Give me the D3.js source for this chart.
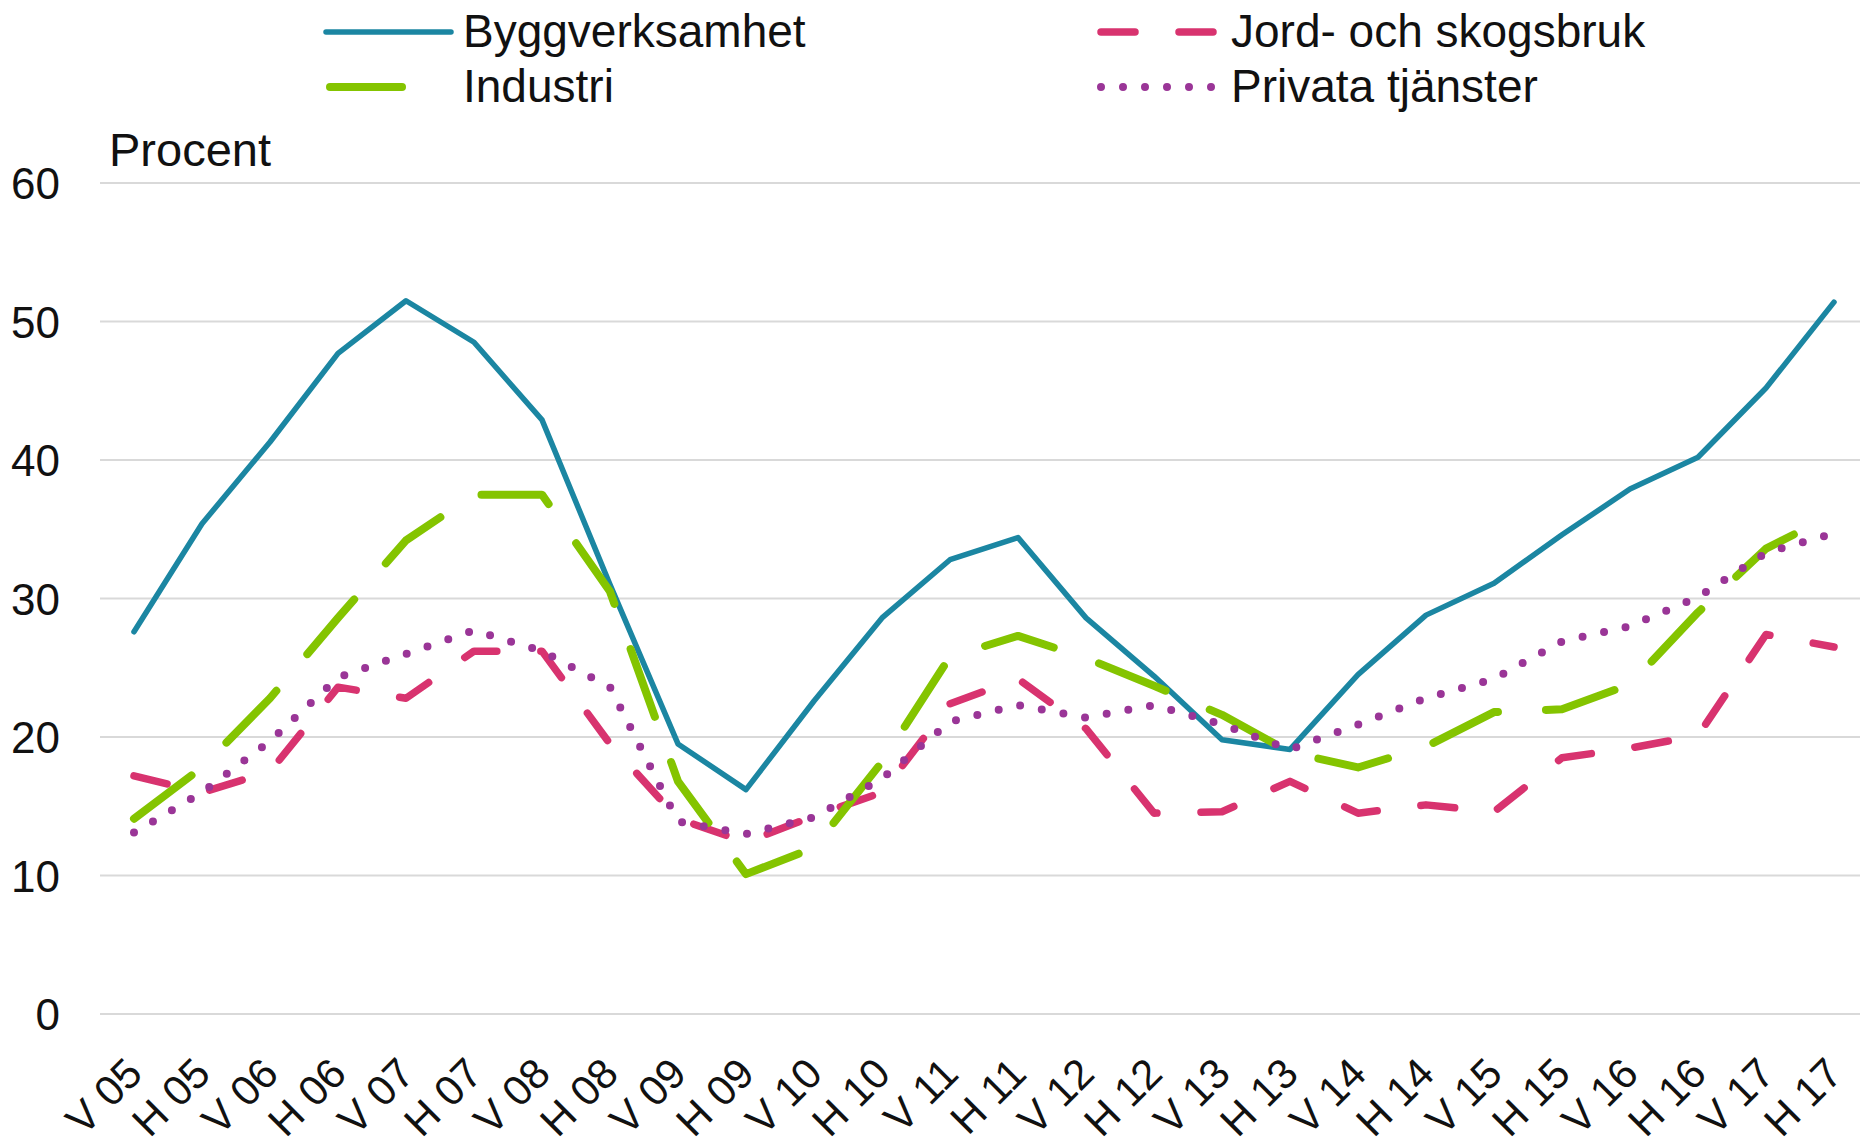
<!DOCTYPE html>
<html>
<head>
<meta charset="utf-8">
<script src="https://cdn.jsdelivr.net/npm/d3@7"></script>
<style>
  body { margin: 0; background: #fff; }
  text { font-family: "Liberation Sans", Arial, sans-serif; fill: #111; }
</style>
</head>
<body>
<script>
// andel företag som anger brist på arbetskraft, per halvår

var categories = ["V 05", "H 05", "V 06", "H 06", "V 07", "H 07", "V 08", "H 08", "V 09", "H 09",
                  "V 10", "H 10", "V 11", "H 11", "V 12", "H 12", "V 13", "H 13", "V 14", "H 14",
                  "V 15", "H 15", "V 16", "H 16", "V 17", "H 17"];

var bygg     = [27.6, 35.4, 41.3, 47.7, 51.5, 48.5, 42.9, 31.0, 19.5, 16.2, 22.6, 28.6, 32.8,
                34.4, 28.6, 24.4, 19.8, 19.1, 24.5, 28.8, 31.1, 34.6, 37.9, 40.2, 45.2, 51.4];
var jord     = [17.2, 16.0, 17.5, 23.6, 22.8, 26.2, 26.2, 19.5, 14.1, 12.4, 14.3, 16.0, 22.4,
                24.2, 20.6, 14.5, 14.6, 16.8, 14.5, 15.1, 14.6, 18.5, 19.2, 20.1, 27.4, 26.5];
var industri = [14.1, 17.8, 22.8, 28.6, 34.2, 37.5, 37.5, 30.5, 16.8, 10.1, 12.0, 18.2, 25.8,
                27.3, 25.7, 23.7, 21.6, 18.9, 17.8, 19.3, 21.8, 22.0, 23.8, 29.0, 33.6, 36.1];
var privata  = [13.1, 16.0, 19.7, 24.3, 26.0, 27.7, 26.2, 23.6, 13.9, 13.0, 14.2, 17.0, 21.1,
                22.3, 21.4, 22.3, 20.9, 19.1, 20.9, 22.8, 24.2, 26.9, 28.0, 30.1, 33.3, 34.7];

var yTicks = [0, 10, 20, 30, 40, 50, 60];
var yLabel = "Procent";

var width = 1860,
    height = 1146;

var plot = {left: 100, right: 1868, top: 183, bottom: 1014};

var series = [
  {name: "Byggverksamhet",      values: bygg,     color: "#1b86a2", w: 5.5, dash: null},
  {name: "Jord- och skogsbruk", values: jord,     color: "#d8336f", w: 7.5, dash: "34,44"},
  {name: "Industri",            values: industri, color: "#84c400", w: 8,   dash: "72,48"},
  {name: "Privata tjänster",    values: privata,  color: "#9a3597", w: 8,   dash: "0,22"}
];

var svg = d3.select("body").append("svg")
    .attr("width", width)
    .attr("height", height);

var x = d3.scalePoint()
    .domain(categories)
    .range([plot.left, plot.right])
    .padding(0.5);

var y = d3.scaleLinear()
    .domain([0, 60])
    .range([plot.bottom, plot.top]);

// gridlines
svg.append("g").selectAll("line")
  .data(yTicks)
  .enter().append("line")
    .attr("x1", plot.left)
    .attr("x2", width)
    .attr("y1", function(d) { return y(d); })
    .attr("y2", function(d) { return y(d); })
    .attr("stroke", "#d9d9d9")
    .attr("stroke-width", 2);

// y axis labels
var yAxis = svg.append("g")
    .attr("transform", "translate(" + 60 + ",0)")
    .call(d3.axisLeft(y).tickValues(yTicks).tickSize(0).tickPadding(0));
yAxis.select(".domain").remove();
yAxis.selectAll("text")
    .style("font-size", "44px")
    .attr("dy", "0.36em")
    .attr("fill", "#111");

svg.append("text")
    .attr("x", 109)
    .attr("y", 166)
    .style("font-size", "47px")
    .text(yLabel);

// x axis labels, rotated
var xAxis = svg.append("g")
    .attr("transform", "translate(0," + plot.bottom + ")")
    .call(d3.axisBottom(x).tickSize(0).tickPadding(0));
xAxis.select(".domain").remove();
xAxis.selectAll("text")
    .style("font-size", "42px")
    .attr("text-anchor", "end")
    .attr("dy", null)
    .attr("y", 0)
    .attr("transform", "translate(10,62) rotate(-45)");

var line = d3.line()
    .x(function(d, i) { return x(categories[i]); })
    .y(function(d) { return y(d); });

svg.append("g").selectAll("path")
  .data(series)
  .enter().append("path")
    .attr("d", function(d) { return line(d.values); })
    .attr("fill", "none")
    .attr("stroke", function(d) { return d.color; })
    .attr("stroke-width", function(d) { return d.w; })
    .attr("stroke-dasharray", function(d) { return d.dash; })
    .attr("stroke-linecap", "round")
    .attr("stroke-linejoin", "round");

// legend, two columns
var legendPos = [
  {x: 326, y: 32},   // Byggverksamhet
  {x: 1097, y: 32},  // Jord- och skogsbruk
  {x: 326, y: 87},   // Industri
  {x: 1097, y: 87}   // Privata tjänster
];

var legend = svg.append("g").selectAll("g")
  .data(series)
  .enter().append("g")
    .attr("transform", function(d, i) { return "translate(" + legendPos[i].x + "," + legendPos[i].y + ")"; });

legend.append("line")
    .attr("x1", function(d) { return d.dash ? 4 : 0; })
    .attr("x2", function(d) { return d.dash ? 119 : 125; })
    .attr("stroke", function(d) { return d.color; })
    .attr("stroke-width", function(d) { return d.w; })
    .attr("stroke-dasharray", function(d) { return d.dash; })
    .attr("stroke-linecap", "round");

legend.append("text")
    .attr("x", function(d, i) { return i % 2 == 0 ? 137 : 134; })
    .attr("y", 15)
    .style("font-size", "46px")
    .text(function(d) { return d.name; });
</script>
</body>
</html>
